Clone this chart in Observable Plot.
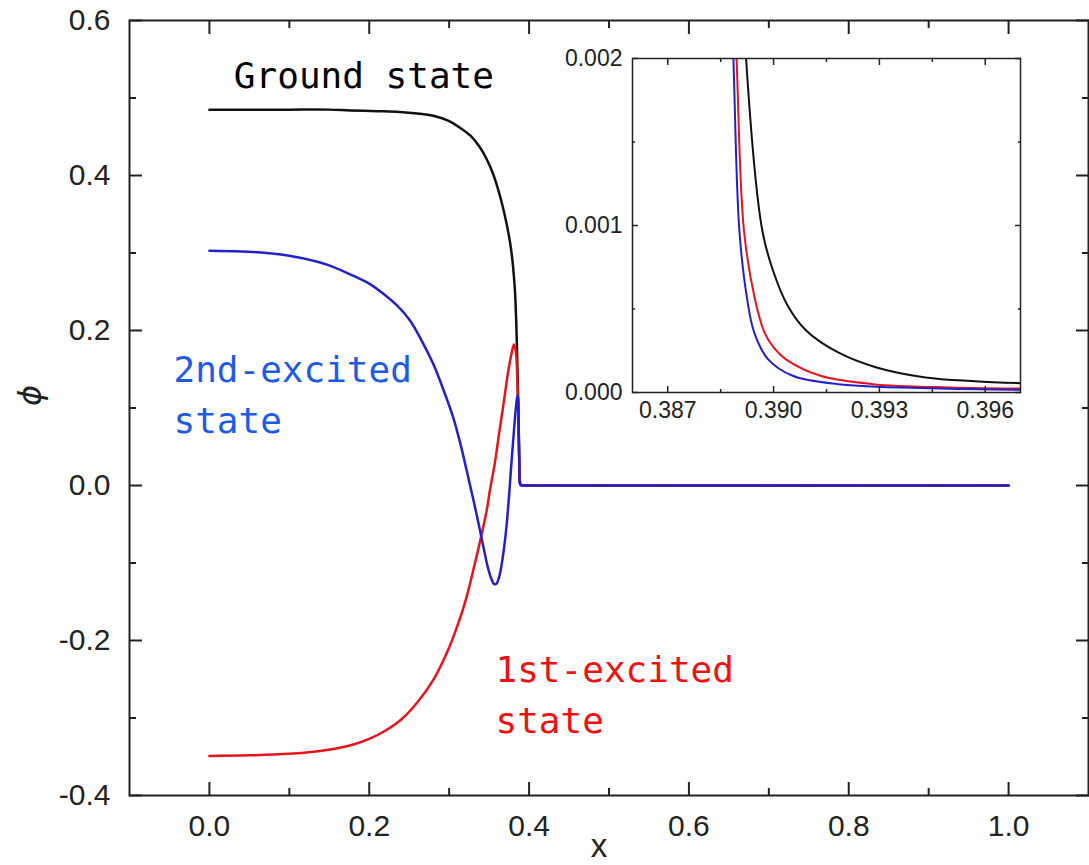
<!DOCTYPE html>
<html><head><meta charset="utf-8">
<script src="https://cdn.jsdelivr.net/npm/d3@7"></script>
<script src="https://cdn.jsdelivr.net/npm/@observablehq/plot@0.6"></script>
<style>
body{margin:0;background:#fff;}
#wrap{position:relative;width:1089px;height:865px;overflow:hidden;background:#fff;}
#main,#inset{position:absolute;left:0;top:0;}
#inset{left:532px;top:18px;}
svg{background:transparent !important;}
</style></head><body><div id="wrap"><div id="main"></div><div id="inset"></div></div>
<script>
// ---------- main chart data ----------
const xGround = [0, 0.05, 0.10, 0.15, 0.176, 0.21, 0.238, 0.26, 0.280, 0.298, 0.313, 0.327, 0.338, 0.347, 0.355, 0.361, 0.367, 0.372, 0.376, 0.379, 0.381, 0.3825, 0.3838, 0.3848, 0.3857, 0.3866, 0.3874, 0.388, 0.3886, 0.3895, 0.392, 0.40, 1.0];
const yGround = [0.485, 0.485, 0.485, 0.485, 0.484, 0.483, 0.482, 0.480, 0.477, 0.471, 0.462, 0.451, 0.437, 0.421, 0.402, 0.383, 0.360, 0.337, 0.315, 0.292, 0.270, 0.248, 0.215, 0.180, 0.140, 0.095, 0.050, 0.018, 0.004, 0.0008, 0.0002, 0.00002, 0];

const xFirst = [0, 0.05, 0.10, 0.13, 0.16, 0.18, 0.20, 0.22, 0.24, 0.26, 0.28, 0.30, 0.315, 0.322, 0.330, 0.338, 0.347, 0.351, 0.357, 0.363, 0.368, 0.374, 0.378, 0.381, 0.3835, 0.3855, 0.387, 0.388, 0.3887, 0.3895, 0.392, 0.40, 1.0];
const yFirst = [-0.349, -0.3482, -0.3462, -0.3435, -0.3390, -0.3342, -0.3270, -0.3165, -0.3020, -0.280, -0.251, -0.209, -0.167, -0.143, -0.110, -0.075, -0.032, -0.006, 0.028, 0.071, 0.105, 0.148, 0.170, 0.182, 0.172, 0.130, 0.065, 0.018, 0.003, 0.0008, 0.0001, 0.00001, 0];

const xSecond = [0, 0.04, 0.072, 0.10, 0.134, 0.15, 0.176, 0.20, 0.218, 0.235, 0.251, 0.265, 0.280, 0.293, 0.305, 0.314, 0.322, 0.330, 0.338, 0.343, 0.349, 0.353, 0.356, 0.359, 0.362, 0.365, 0.369, 0.372, 0.375, 0.378, 0.381, 0.3835, 0.3852, 0.386, 0.3868, 0.3877, 0.3885, 0.3895, 0.392, 0.40, 1.0];
const ySecond = [0.303, 0.302, 0.300, 0.2965, 0.289, 0.284, 0.2725, 0.2605, 0.247, 0.232, 0.213, 0.188, 0.157, 0.123, 0.088, 0.054, 0.019, -0.017, -0.055, -0.080, -0.108, -0.121, -0.127, -0.127, -0.120, -0.106, -0.078, -0.050, -0.012, 0.030, 0.070, 0.100, 0.114, 0.116, 0.090, 0.030, 0.003, 0.0006, 0.00005, 0.000005, 0];

// ---------- inset data ----------
const xGroundIn = [0.38905, 0.38922, 0.38968, 0.39000, 0.39040, 0.39093, 0.39183, 0.39292, 0.39431, 0.3957, 0.397];
const yGroundIn = [0.0030, 0.0020, 0.00097, 0.00072, 0.00052, 0.00037, 0.00024, 0.00015, 0.00009, 0.000068, 0.000056];
const xFirstIn = [0.38877, 0.38895, 0.38916, 0.38947, 0.38974, 0.39000, 0.39034, 0.39133, 0.39282, 0.3950, 0.397];
const yFirstIn = [0.0030, 0.0020, 0.00097, 0.00056, 0.00036, 0.00027, 0.00020, 0.00010, 0.00005, 0.00003, 0.000024];
const xSecondIn = [0.3887, 0.38886, 0.38903, 0.38925, 0.38945, 0.38984, 0.39054, 0.39183, 0.3945, 0.397];
const ySecondIn = [0.0030, 0.0020, 0.00097, 0.00056, 0.00036, 0.00020, 0.00010, 0.00005, 0.000025, 0.000016];

// ---------- ticks and labels ----------
const xMajor = [0, 0.2, 0.4, 0.6, 0.8, 1.0];
const xMinor = [0.1, 0.3, 0.5, 0.7, 0.9];
const yMajor = [-0.4, -0.2, 0, 0.2, 0.4, 0.6];
const yMinor = [-0.3, -0.1, 0.1, 0.3, 0.5];
const inXMajor = [0.387, 0.390, 0.393, 0.396];
const inXMinor = [0.3885, 0.3915, 0.3945];
const inYMajor = [0, 0.001, 0.002];
const inYMinor = [0.0005, 0.0015];
const groundLabel = "Ground state";
const secondLabel = ["2nd-excited", "state"];
const firstLabel = ["1st-excited", "state"];

const colGround = "#111111", colFirst = "#e8141c", colSecond = "#2420c8";
const rows = (xs, ys) => xs.map((x, i) => ({x, y: ys[i]}));
const fmt1 = d => d.toFixed(1);
const fmt3 = d => d.toFixed(3);
const ink = "#222";

function tickAxes(xMaj, xMin, yMaj, yMin, maj, min, sw) {
  const out = [];
  for (const a of ["bottom", "top"]) {
    out.push(Plot.axisX({ticks: xMaj, anchor: a, tickSize: -maj, fill: "none", stroke: ink, strokeWidth: sw, label: null}));
    out.push(Plot.axisX({ticks: xMin, anchor: a, tickSize: -min, fill: "none", stroke: ink, strokeWidth: sw, label: null}));
  }
  for (const a of ["left", "right"]) {
    out.push(Plot.axisY({ticks: yMaj, anchor: a, tickSize: -maj, fill: "none", stroke: ink, strokeWidth: sw, label: null}));
    out.push(Plot.axisY({ticks: yMin, anchor: a, tickSize: -min, fill: "none", stroke: ink, strokeWidth: sw, label: null}));
  }
  return out;
}

const mono = "DejaVu Sans Mono, monospace";
const curve = "catmull-rom";

const main = Plot.plot({
  width: 1089, height: 865,
  marginLeft: 129, marginRight: 1, marginTop: 20, marginBottom: 70,
  x: {domain: [-0.1, 1.1]},
  y: {domain: [-0.4, 0.6]},
  style: {fontFamily: "Liberation Sans, Arial, sans-serif", fontSize: "30px", color: ink, background: "transparent", overflow: "visible"},
  marks: [
    Plot.line(rows(xGround, yGround), {x: "x", y: "y", stroke: colGround, strokeWidth: 2.5, curve}),
    Plot.line(rows(xFirst, yFirst), {x: "x", y: "y", stroke: colFirst, strokeWidth: 2.5, curve}),
    Plot.line(rows(xSecond, ySecond), {x: "x", y: "y", stroke: colSecond, strokeWidth: 2.5, curve}),
    Plot.frame({stroke: ink, strokeWidth: 2}),
    ...tickAxes(xMajor, xMinor, yMajor, yMinor, 13, 7, 2),
    Plot.axisX({ticks: xMajor, anchor: "bottom", tickSize: 0, tickPadding: 19, tickFormat: fmt1, fontSize: 30, label: null, fill: ink}),
    Plot.axisY({ticks: yMajor, anchor: "left", tickSize: 0, tickPadding: 19, tickFormat: fmt1, fontSize: 30, label: null, fill: ink}),
    Plot.text(["ϕ"], {frameAnchor: "left", dx: -99, dy: -2, rotate: -90, fontSize: 32, fontStyle: "italic", fontFamily: "DejaVu Sans, sans-serif", fill: ink, text: d => d}),
    Plot.text(["x"], {frameAnchor: "bottom", dx: -10, dy: 38, lineAnchor: "top", fontSize: 33, fill: ink, text: d => d}),
    Plot.text([groundLabel], {x: 0.0306, y: 0.528, text: d => d, textAnchor: "start", fontSize: 36, fontFamily: mono, fill: "#000"}),
    Plot.text([secondLabel[0]], {x: -0.045, y: 0.149, text: d => d, textAnchor: "start", fontSize: 36, fontFamily: mono, fill: "#1e5ae6"}),
    Plot.text([secondLabel[1]], {x: -0.045, y: 0.083, text: d => d, textAnchor: "start", fontSize: 36, fontFamily: mono, fill: "#1e5ae6"}),
    Plot.text([firstLabel[0]], {x: 0.358, y: -0.239, text: d => d, textAnchor: "start", fontSize: 36, fontFamily: mono, fill: "#f01010"}),
    Plot.text([firstLabel[1]], {x: 0.358, y: -0.304, text: d => d, textAnchor: "start", fontSize: 36, fontFamily: mono, fill: "#f01010"})
  ]
});
document.getElementById("main").appendChild(main);

const inset = Plot.plot({
  width: 508, height: 424,
  marginLeft: 100, marginRight: 20, marginTop: 40, marginBottom: 50,
  x: {domain: [0.386, 0.397]},
  y: {domain: [0, 0.002]},
  style: {fontFamily: "Liberation Sans, Arial, sans-serif", fontSize: "23px", color: ink, background: "transparent", overflow: "visible"},
  marks: [
    Plot.line(rows(xGroundIn, yGroundIn), {x: "x", y: "y", stroke: colGround, strokeWidth: 2, curve, clip: true}),
    Plot.line(rows(xFirstIn, yFirstIn), {x: "x", y: "y", stroke: colFirst, strokeWidth: 2, curve, clip: true}),
    Plot.line(rows(xSecondIn, ySecondIn), {x: "x", y: "y", stroke: colSecond, strokeWidth: 2, curve, clip: true}),
    Plot.frame({stroke: ink, strokeWidth: 1.5}),
    ...tickAxes(inXMajor, inXMinor, inYMajor, inYMinor, 6, 3, 1.5),
    Plot.axisX({ticks: inXMajor, anchor: "bottom", tickSize: 0, tickPadding: 9, tickFormat: fmt3, fontSize: 23, label: null, fill: ink}),
    Plot.axisY({ticks: inYMajor, anchor: "left", tickSize: 0, tickPadding: 10, tickFormat: fmt3, fontSize: 23, label: null, fill: ink})
  ]
});
document.getElementById("inset").appendChild(inset);
</script></body></html>
